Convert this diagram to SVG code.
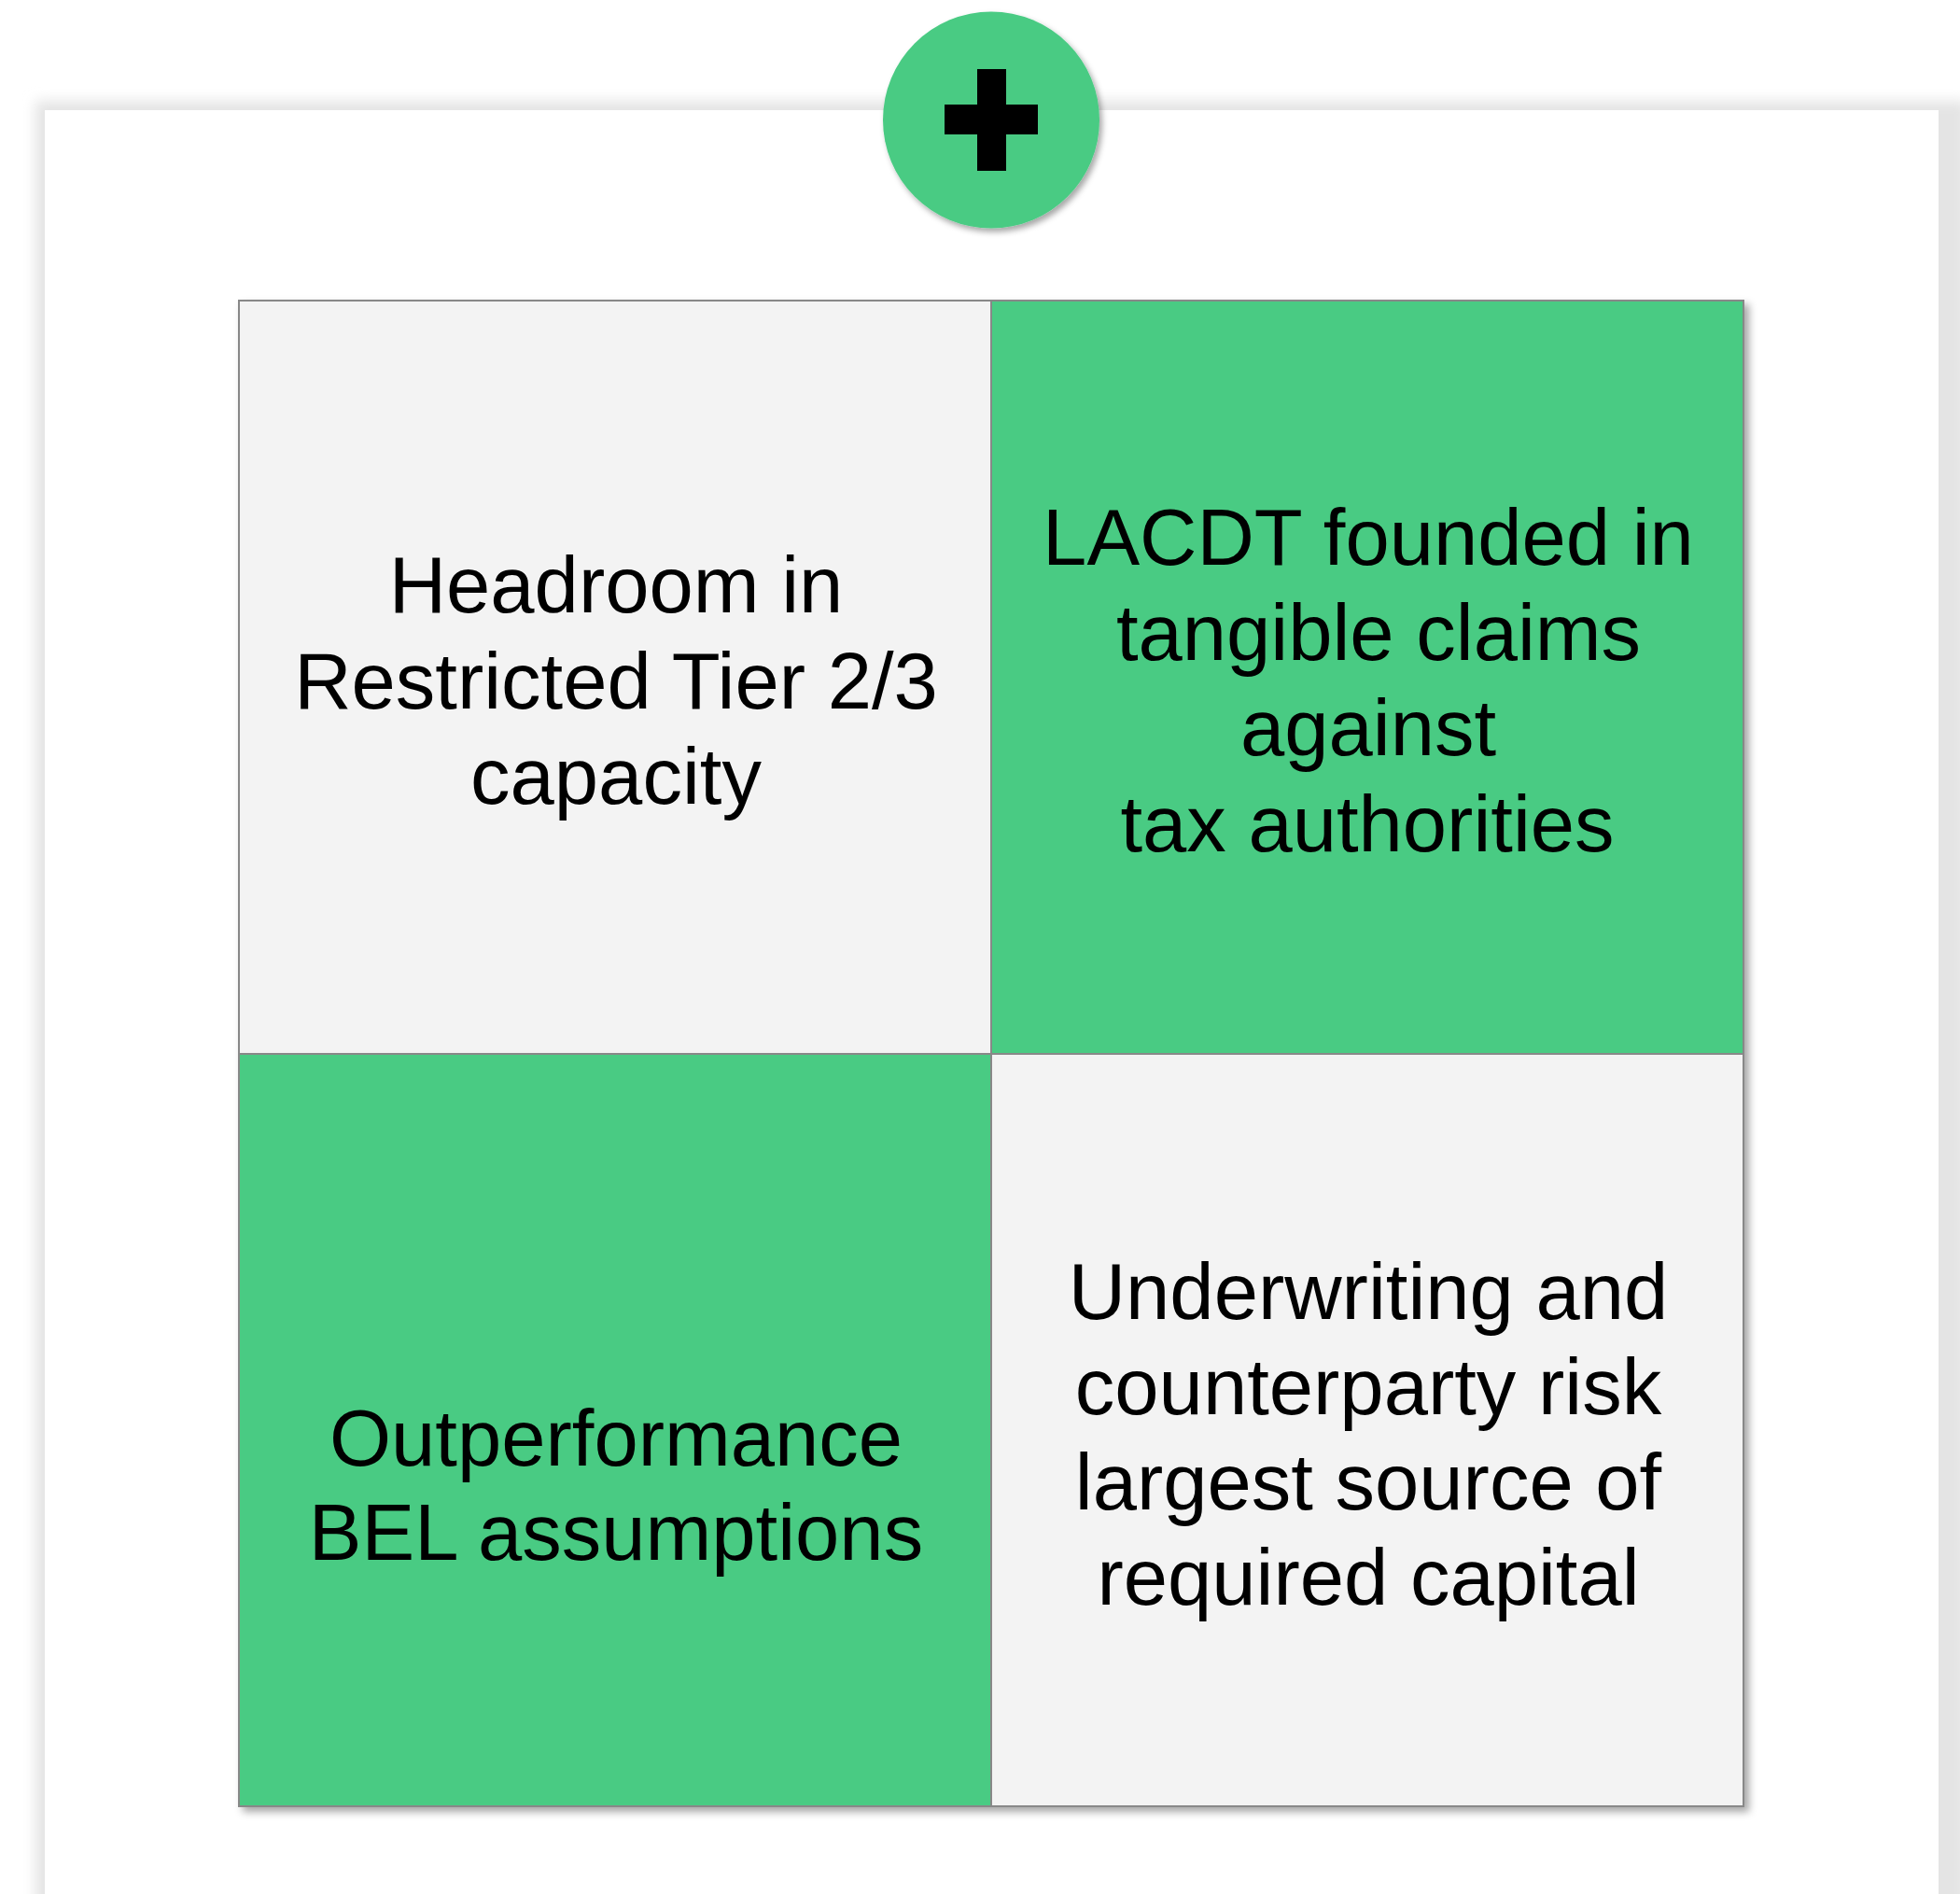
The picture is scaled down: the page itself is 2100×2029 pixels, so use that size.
<svg xmlns="http://www.w3.org/2000/svg" width="2100" height="2029" viewBox="0 0 2100 2029">
  <style>
    .lbl { font-family: "Liberation Sans", Arial, sans-serif; font-size: 85px; fill: #000000; text-anchor: middle; }
    .green { fill: #4ACB83; stroke: #888888; stroke-width: 2; }
    .gray { fill: #F3F3F3; stroke: #888888; stroke-width: 2; }
  </style>
  <defs>
    <filter id="panelShadow" x="-5%" y="-5%" width="110%" height="110%">
      <feGaussianBlur stdDeviation="7"/>
    </filter>
    <filter id="gridShadow" x="-5%" y="-5%" width="110%" height="110%">
      <feDropShadow dx="5" dy="5" stdDeviation="4" flood-color="#000000" flood-opacity="0.35"/>
    </filter>
    <filter id="circleShadow" x="-20%" y="-20%" width="140%" height="140%">
      <feDropShadow dx="3" dy="4" stdDeviation="3" flood-color="#000000" flood-opacity="0.35"/>
    </filter>
  </defs>
  <rect x="0" y="0" width="2100" height="2029" fill="#FFFFFF"/>
  <g id="panel">
    <rect x="38" y="108" width="2070" height="1960" fill="#E4E4E4" filter="url(#panelShadow)"/>
    <rect x="48" y="118" width="2029" height="1940" fill="#FFFFFF"/>
  </g>
  <g id="grid" filter="url(#gridShadow)">
    <g id="cell-top-left">
      <rect class="gray" x="256" y="322" width="806" height="807"/>
      <text class="lbl"><tspan x="660" y="656">Headroom in</tspan><tspan x="660" y="759">Restricted Tier 2/3</tspan><tspan x="660" y="861">capacity</tspan></text>
    </g>
    <g id="cell-top-right">
      <rect class="green" x="1062" y="322" width="806" height="807"/>
      <text class="lbl"><tspan x="1466" y="605">LACDT founded in</tspan><tspan x="1477" y="707">tangible claims</tspan><tspan x="1466" y="809">against</tspan><tspan x="1465" y="912">tax authorities</tspan></text>
    </g>
    <g id="cell-bottom-left">
      <rect class="green" x="256" y="1129" width="806" height="806"/>
      <text class="lbl"><tspan x="660" y="1570">Outperformance</tspan><tspan x="660" y="1671">BEL assumptions</tspan></text>
    </g>
    <g id="cell-bottom-right">
      <rect class="gray" x="1062" y="1129" width="806" height="806"/>
      <text class="lbl"><tspan x="1466" y="1413">Underwriting and</tspan><tspan x="1466" y="1515">counterparty risk</tspan><tspan x="1466" y="1617">largest source of</tspan><tspan x="1466" y="1719">required capital</tspan></text>
    </g>
  </g>
  <g id="plus-badge">
    <circle cx="1062" cy="128.5" r="116" fill="#4ACB83" filter="url(#circleShadow)"/>
    <rect x="1047" y="74" width="31" height="109" fill="#000000"/>
    <rect x="1012" y="112" width="100" height="32" fill="#000000"/>
  </g>
  <g id="connectors"/>
</svg>
